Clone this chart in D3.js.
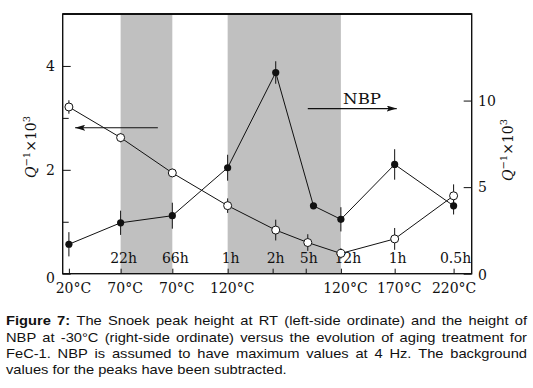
<!DOCTYPE html>
<html><head><meta charset="utf-8">
<script src="https://cdn.jsdelivr.net/npm/d3@7"></script>
<style>
html,body{margin:0;padding:0;background:#fff;}
svg{display:block;}
</style></head>
<body><svg id="chart" width="533" height="388"></svg>
<script>
// ---- data ----
const stepPos = [0, 1, 2, 3.07, 3.94, 4.58, 5.26, 6.3, 7.44];          // aging-step positions
const timeLabels = ["", "22h", "66h", "1h", "2h", "5h", "12h", "1h", "0.5h"];
const tempLabels = ["20°C", "70°C", "70°C", "120°C", "", "", "120°C", "170°C", "220°C"];
const shadedSteps = [[1, 2], [3.07, 5.26]];
// Snoek peak (open circles, left ordinate)
const snoekX = [0, 1, 2, 3.07, 4.0, 4.62, 5.26, 6.3, 7.44];
const snoekVal = [3.21, 2.62, 1.94, 1.31, 0.84, 0.60, 0.39, 0.67, 1.50];
const snoekErr = [0.13, 0.09, 0.08, 0.14, 0.20, 0.16, 0.10, 0.21, 0.22];
// NBP (filled circles, right ordinate)
const nbpX = [0, 1, 2, 3.07, 4.0, 4.73, 5.26, 6.3, 7.44];
const nbpVal = [1.70, 2.94, 3.35, 6.12, 11.62, 3.92, 3.14, 6.31, 3.92];
const nbpErr = [0.70, 0.70, 0.75, 0.75, 0.65, 0.0, 0.70, 0.88, 0.50];
const leftTicks = [0, 1, 2, 3, 4];
const leftLabels = [0, 2, 4];
const rightTicks = [0, 5, 10];
const caption = [
  [{b:true,t:"Figure 7:"},{t:" The Snoek peak height at RT (left-side ordinate) and the height of"}],
  [{t:"NBP at -30°C (right-side ordinate) versus the evolution of aging treatment for"}],
  [{t:"FeC-1. NBP is assumed to have maximum values at 4 Hz. The background"}],
  [{t:"values for the peaks have been subtracted."}]
];

// ---- layout ----
const svg = d3.select("#chart");
const L = 62.7, R = 471.7, T = 14, B = 273.7;
const x = d3.scaleLinear().domain([-0.12, 7.79]).range([L, R]);
const yL = d3.scaleLinear().domain([0, 5]).range([B, T]);
const yR = d3.scaleLinear().domain([0, 15]).range([B, T]);
const serif = "'DejaVu Serif', serif";

// shading
svg.selectAll("rect.shade").data(shadedSteps).join("rect")
  .attr("x", d => x(d[0])).attr("y", T)
  .attr("width", d => x(d[1]) - x(d[0])).attr("height", B - T)
  .attr("fill", "#c0c0c0");

// frame
svg.append("rect").attr("x", L).attr("y", T).attr("width", R - L).attr("height", B - T)
  .attr("fill", "none").attr("stroke", "#111").attr("stroke-width", 1.4);
svg.append("line").attr("x1", L).attr("x2", R).attr("y1", T).attr("y2", T)
  .attr("stroke", "#111").attr("stroke-width", 2);

// bottom ticks (inward)
const axB = d3.axisBottom(x).tickValues(stepPos).tickSize(-5).tickFormat("");
const gB = svg.append("g").attr("transform", `translate(0,${B})`).call(axB);
gB.select(".domain").remove();
gB.selectAll(".tick line").attr("stroke", "#111");
// temperature labels
gB.selectAll(".tick").append("text")
  .text((d, i) => tempLabels[i])
  .attr("x", (d, i) => i === stepPos.length - 1 ? 0 : 4)
  .attr("y", 19).attr("fill", "#111")
  .attr("font-family", serif).attr("font-size", 14).attr("text-anchor", "middle");
// time labels inside the plot
svg.selectAll("text.time").data(stepPos).join("text").attr("class", "time")
  .attr("x", (d, i) => x(d) + (i === 6 ? 7 : i === 8 ? 2 : 3))
  .attr("y", B - 10.5)
  .text((d, i) => timeLabels[i])
  .attr("font-family", serif).attr("font-size", 14).attr("text-anchor", "middle").attr("fill", "#111");

// left axis
const axL = d3.axisRight(yL).tickValues(leftTicks).tickSize(8).tickFormat("");
const gL = svg.append("g").attr("transform", `translate(${L},0)`).call(axL);
gL.select(".domain").remove();
gL.selectAll(".tick line").attr("stroke", "#111").attr("x2", d => leftLabels.includes(d) ? 8 : 6);
svg.selectAll("text.ll").data(leftLabels).join("text").attr("class", "ll")
  .attr("x", 50.5).attr("y", d => yL(d) + (d === 0 ? 9 : 5))
  .text(d => d).attr("font-family", serif).attr("font-size", 14)
  .attr("text-anchor", "middle").attr("fill", "#111");

// right axis
const axR = d3.axisLeft(yR).tickValues(rightTicks).tickSize(8).tickFormat("");
const gR = svg.append("g").attr("transform", `translate(${R},0)`).call(axR);
gR.select(".domain").remove();
gR.selectAll(".tick line").attr("stroke", "#111");
svg.selectAll("text.rl").data(rightTicks).join("text").attr("class", "rl")
  .attr("x", 478).attr("y", d => yR(d) + (d === 0 ? 6 : 5))
  .text(d => d).attr("font-family", serif).attr("font-size", 14)
  .attr("text-anchor", "start").attr("fill", "#111");

// axis titles
function yTitle(cx, cy) {
  const t = svg.append("text").attr("transform", `translate(${cx},${cy}) rotate(-90)`)
    .attr("font-family", serif).attr("font-size", 14).attr("text-anchor", "middle").attr("fill", "#111");
  t.append("tspan").attr("font-style", "italic").text("Q");
  t.append("tspan").attr("font-size", 10).attr("dy", -6).text("−1");
  t.append("tspan").attr("dy", 6).text("×10");
  t.append("tspan").attr("font-size", 10).attr("dy", -6).text("3");
}
yTitle(36, 147);
yTitle(513, 150);

// series
const lineGen = (xs, ys, yscale) => d3.line()(xs.map((d, i) => [x(d), yscale(ys[i])]));
svg.append("path").attr("d", lineGen(snoekX, snoekVal, yL)).attr("fill", "none").attr("stroke", "#111").attr("stroke-width", 1);
svg.append("path").attr("d", lineGen(nbpX, nbpVal, yR)).attr("fill", "none").attr("stroke", "#111").attr("stroke-width", 1);

// error bars
svg.selectAll("line.es").data(snoekVal).join("line")
  .attr("x1", (d, i) => x(snoekX[i])).attr("x2", (d, i) => x(snoekX[i]))
  .attr("y1", (d, i) => yL(d - snoekErr[i])).attr("y2", (d, i) => yL(d + snoekErr[i]))
  .attr("stroke", "#111").attr("stroke-width", 1);
svg.selectAll("line.en").data(nbpVal).join("line")
  .attr("x1", (d, i) => x(nbpX[i])).attr("x2", (d, i) => x(nbpX[i]))
  .attr("y1", (d, i) => yR(d - nbpErr[i])).attr("y2", (d, i) => yR(d + nbpErr[i]))
  .attr("stroke", "#111").attr("stroke-width", 1);

// markers
svg.selectAll("circle.n").data(nbpVal).join("circle")
  .attr("cx", (d, i) => x(nbpX[i])).attr("cy", d => yR(d)).attr("r", 3.6).attr("fill", "#111");
svg.selectAll("circle.s").data(snoekVal).join("circle")
  .attr("cx", (d, i) => x(snoekX[i])).attr("cy", d => yL(d)).attr("r", 4)
  .attr("fill", "#fff").attr("stroke", "#111").attr("stroke-width", 1);

// arrows
const defs = svg.append("defs");
defs.append("marker").attr("id", "ah").attr("viewBox", "0 0 10 6").attr("refX", 10).attr("refY", 3)
  .attr("markerWidth", 10).attr("markerHeight", 6).attr("markerUnits", "userSpaceOnUse").attr("orient", "auto")
  .append("path").attr("d", "M0,0 L10,3 L0,6 L2,3 Z").attr("fill", "#111");
svg.append("line").attr("x1", x(1.72)).attr("x2", x(0.12)).attr("y1", yL(2.81)).attr("y2", yL(2.81))
  .attr("stroke", "#111").attr("stroke-width", 1.2).attr("marker-end", "url(#ah)");
svg.append("line").attr("x1", x(4.62)).attr("x2", x(6.34)).attr("y1", yR(9.54)).attr("y2", yR(9.54))
  .attr("stroke", "#111").attr("stroke-width", 1.2).attr("marker-end", "url(#ah)");
svg.append("text").attr("x", x(5.67) - 19).attr("y", yR(9.79)).text("NBP")
  .attr("font-family", serif).attr("font-size", 14.5).attr("textLength", 38)
  .attr("lengthAdjust", "spacingAndGlyphs").attr("fill", "#111");

// caption, justified (text slightly stretched horizontally as in the reference)
const capL = 6, capR = 527, capY0 = 325.3, capDY = 16.4, sx = 1.13;
const capG = svg.append("g").attr("transform", `translate(${capL},0) scale(${sx},1)`);
const availW = (capR - capL) / sx;
caption.forEach((segs, li) => {
  const last = li === caption.length - 1;
  const words = [];
  segs.forEach(s => {
    s.t.split(" ").forEach(w => { if (w.length) words.push({w, b: !!s.b}); });
  });
  const nodes = words.map(o => capG.append("text").text(o.w)
    .attr("font-family", "'Liberation Sans', Arial, sans-serif").attr("font-size", 13)
    .attr("font-weight", o.b ? "bold" : "normal").attr("fill", "#111").attr("y", capY0 + li * capDY));
  const widths = nodes.map(n => n.node().getComputedTextLength());
  const total = d3.sum(widths);
  const gap = last ? 3.6 : (availW - total) / (words.length - 1);
  let cx = 0;
  nodes.forEach((n, i) => { n.attr("x", cx); cx += widths[i] + gap; });
});
</script></body></html>
